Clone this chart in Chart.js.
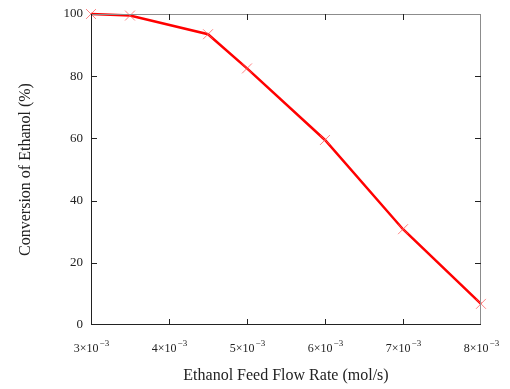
<!DOCTYPE html>
<html>
<head>
<meta charset="utf-8">
<script src="https://cdn.jsdelivr.net/npm/chart.js@4"></script>
<style>
  html, body { margin: 0; padding: 0; background: #fff; }
  #wrap { width: 510px; height: 389px; }
</style>
</head>
<body>
<div id="wrap"><canvas id="conv"></canvas></div>
<script>
// values
var flowRate = [0.003, 0.0035, 0.0045, 0.005, 0.006, 0.007, 0.008];
var conversion = [100, 99.5, 93.5, 82.5, 59.5, 30.8, 6.8];
var xTickValues = [0.003, 0.004, 0.005, 0.006, 0.007, 0.008];
var xTickMantissa = ['3', '4', '5', '6', '7', '8'];
var xTickExponent = '\u22123';
var yTickValues = [0, 20, 40, 60, 80, 100];

var serif = "'Liberation Serif', 'Times New Roman', serif";

// frame with inward ticks and the x labels with a real superscript
var framePlugin = {
	id: 'frame',
	afterDraw: function(chart) {
		var ctx = chart.ctx;
		var a = chart.chartArea;
		var xs = chart.scales.x, ys = chart.scales.y;
		var len = 6;
		ctx.save();
		ctx.lineWidth = 1;
		ctx.strokeStyle = '#8c8c8c';
		ctx.beginPath();
		ctx.moveTo(a.left, a.top + 0.5); ctx.lineTo(a.right, a.top + 0.5);
		ctx.moveTo(a.right - 0.5, a.top); ctx.lineTo(a.right - 0.5, a.bottom);
		ctx.stroke();
		ctx.strokeStyle = '#222';
		ctx.beginPath();
		ctx.moveTo(a.left + 0.5, a.top); ctx.lineTo(a.left + 0.5, a.bottom);
		ctx.moveTo(a.left, a.bottom - 0.5); ctx.lineTo(a.right, a.bottom - 0.5);
		xTickValues.forEach(function(v, i) {
			var px = Math.round(xs.getPixelForValue(v)) + 0.5;
			if (i > 0 && i < xTickValues.length - 1) {
				ctx.moveTo(px, a.bottom); ctx.lineTo(px, a.bottom - len);
				ctx.moveTo(px, a.top); ctx.lineTo(px, a.top + len);
			}
		});
		yTickValues.forEach(function(v, i) {
			var py = Math.round(ys.getPixelForValue(v)) + 0.5;
			if (i > 0 && i < yTickValues.length - 1) {
				ctx.moveTo(a.left, py); ctx.lineTo(a.left + len, py);
				ctx.moveTo(a.right, py); ctx.lineTo(a.right - len, py);
			}
		});
		ctx.stroke();

		// x tick labels: "3×10" plus a raised "−3"
		ctx.fillStyle = '#222';
		ctx.textBaseline = 'alphabetic';
		xTickValues.forEach(function(v, i) {
			var base = xTickMantissa[i] + '×10';
			ctx.font = '12px ' + serif;
			var wb = ctx.measureText(base).width;
			ctx.font = '9px ' + serif;
			var we = ctx.measureText(xTickExponent).width;
			var x0 = xs.getPixelForValue(v) - (wb + we) / 2;
			var yb = a.bottom + 27;
			ctx.font = '12px ' + serif;
			ctx.fillText(base, x0, yb);
			ctx.font = '9px ' + serif;
			ctx.fillText(xTickExponent, x0 + wb + 1, yb - 6);
		});
		ctx.restore();
	}
};

var ctx = document.getElementById('conv').getContext('2d');
var myChart = new Chart(ctx, {
	type: 'line',
	data: {
		datasets: [{
			data: flowRate.map(function(x, i) { return { x: x, y: conversion[i] }; }),
			borderColor: '#ff0000',
			borderWidth: 2.5,
			pointStyle: 'crossRot',
			pointRadius: 7,
			pointBorderColor: 'rgba(255, 90, 90, 0.75)',
			pointBorderWidth: 1,
			pointHoverRadius: 7,
			tension: 0,
			clip: false
		}]
	},
	options: {
		responsive: true,
		maintainAspectRatio: false,
		animation: false,
		layout: { padding: { top: 14, right: 29, left: 0, bottom: 0 } },
		plugins: { legend: { display: false }, tooltip: { enabled: false } },
		scales: {
			x: {
				type: 'linear',
				min: 0.003,
				max: 0.008,
				afterBuildTicks: function(scale) {
					scale.ticks = xTickValues.map(function(v) { return { value: v }; });
				},
				afterFit: function(scale) { scale.height = 64; },
				grid: { display: false },
				border: { display: false },
				ticks: {
					color: 'rgba(0,0,0,0)',
					padding: 8,
					maxRotation: 0,
					autoSkip: false,
					font: { family: serif, size: 12 },
					callback: function(v, i) { return xTickMantissa[i] + '×10' + xTickExponent; }
				},
				title: {
					display: true,
					text: 'Ethanol Feed Flow Rate (mol/s)',
					color: '#222',
					font: { family: serif, size: 16 },
					padding: { top: 14 }
				}
			},
			y: {
				min: 0,
				max: 100,
				afterBuildTicks: function(scale) {
					scale.ticks = yTickValues.map(function(v) { return { value: v }; });
				},
				afterFit: function(scale) { scale.width = 91; },
				grid: { display: false },
				border: { display: false },
				ticks: {
					color: '#222',
					padding: 0,
					font: { family: serif, size: 13 }
				},
				title: {
					display: true,
					text: 'Conversion of Ethanol (%)',
					color: '#222',
					font: { family: serif, size: 16 },
					padding: { top: 16, bottom: 0 }
				}
			}
		}
	},
	plugins: [framePlugin]
});
</script>
</body>
</html>
